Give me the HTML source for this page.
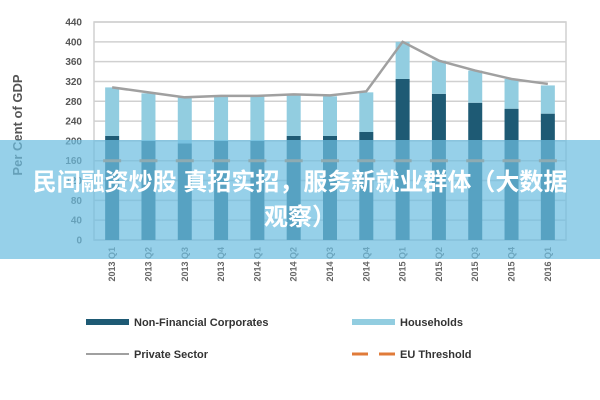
<!DOCTYPE html>
<html><head><meta charset="utf-8"><style>
body{margin:0;width:600px;height:400px;background:#fff;overflow:hidden;position:relative;font-family:"Liberation Sans",sans-serif}
#banner{position:absolute;left:0;top:140px;width:600px;height:119px;background:rgba(110,190,225,0.72);color:#fff;font-family:"Liberation Sans","Noto Sans CJK SC",sans-serif;font-weight:bold;font-size:24px;text-align:center;line-height:35px;padding-top:25px;box-sizing:border-box;white-space:nowrap}
</style></head><body>
<svg id="chart" width="600" height="400" style="position:absolute;left:0;top:0"></svg>
<div id="banner">民间融资炒股 真招实招，服务新就业群体（大数据<br>观察）</div>
<script>
const categories=["2013 Q1","2013 Q2","2013 Q3","2013 Q4","2014 Q1","2014 Q2","2014 Q3","2014 Q4","2015 Q1","2015 Q2","2015 Q3","2015 Q4","2016 Q1"];
const nfc=[210,200,195,200,200,210,210,218,325,295,277,265,255];
const households=[98,96,93,90,90,82,80,80,75,67,65,60,57];
const privateSector=[308,298,288,291,291,294,292,300,400,362,342,325,315];
const threshold=[160,160,160,160,160,160,160,160,160,160,160,160,160];
const yTicks=[0,40,80,120,160,200,240,280,320,360,400,440];
const NS="http://www.w3.org/2000/svg";
const svg=document.getElementById('chart');
const X0=94,X1=566,Y0=240,Y1=22;
const step=(X1-X0)/categories.length;
const xc=i=>X0+step*(i+0.5);
const y=v=>Y0-(v/440)*(Y0-Y1);
function mk(t,a){const e=document.createElementNS(NS,t);for(const k in a)e.setAttribute(k,a[k]);svg.appendChild(e);return e;}
yTicks.forEach(v=>{
 const g=mk('line',{x1:X0,x2:X1,y1:y(v),y2:y(v),stroke:'#d0d0d0','stroke-width':1.5});
 
 const t=mk('text',{x:X0-12,y:y(v)+3.5,'text-anchor':'end','font-size':10,fill:'#555','font-weight':'bold'});
 t.textContent=v;
});
const fr=mk('rect',{x:X0,y:Y1,width:X1-X0,height:Y0-Y1,fill:'none',stroke:'#d0d0d0','stroke-width':1.5});

const bw=14;
categories.forEach((c,i)=>{
 const b1=mk('rect',{x:xc(i)-bw/2,y:y(nfc[i]),width:bw,height:Y0-y(nfc[i]),fill:'#1e5a74'});
 
 const tot=nfc[i]+households[i];
 const b2=mk('rect',{x:xc(i)-bw/2,y:y(tot),width:bw,height:y(nfc[i])-y(tot),fill:'#92cde0'});
 
 const d=mk('line',{x1:xc(i)-9,x2:xc(i)+9,y1:y(threshold[i]),y2:y(threshold[i]),stroke:'#e07b39','stroke-width':3});
 
 const t=mk('text',{x:0,y:0,'font-size':9,fill:'#666','font-weight':'bold','text-anchor':'end',transform:`translate(${xc(i)+3},247) rotate(-90)`});
 t.textContent=c;
});
const pl=mk('polyline',{points:privateSector.map((v,i)=>xc(i)+','+y(v)).join(' '),fill:'none',stroke:'#a0a0a0','stroke-width':2.5});

const yt=mk('text',{x:0,y:0,'font-size':13,fill:'#555','font-weight':'bold','text-anchor':'middle',transform:'translate(22,125) rotate(-90)'});
yt.textContent='Per Cent of GDP';
function leg(name,x,yy,label,draw){draw(x,yy);const t=mk('text',{x:x+48,y:yy+4,'font-size':11,'font-weight':'bold',fill:'#333'});t.textContent=label;}
leg('legend-nfc',86,322,'Non-Financial Corporates',(x,yy)=>{const r=mk('rect',{x:x,y:yy-3,width:43,height:6,fill:'#1e5a74'});});
leg('legend-households',352,322,'Households',(x,yy)=>{const r=mk('rect',{x:x,y:yy-3,width:43,height:6,fill:'#92cde0'});});
leg('legend-private',86,354,'Private Sector',(x,yy)=>{const r=mk('line',{x1:x,x2:x+43,y1:yy,y2:yy,stroke:'#a0a0a0','stroke-width':2});});
leg('legend-eu',352,354,'EU Threshold',(x,yy)=>{const r=mk('line',{x1:x,x2:x+43,y1:yy,y2:yy,stroke:'#e07b39','stroke-width':3,'stroke-dasharray':'16 11'});});
</script>
</body></html>
